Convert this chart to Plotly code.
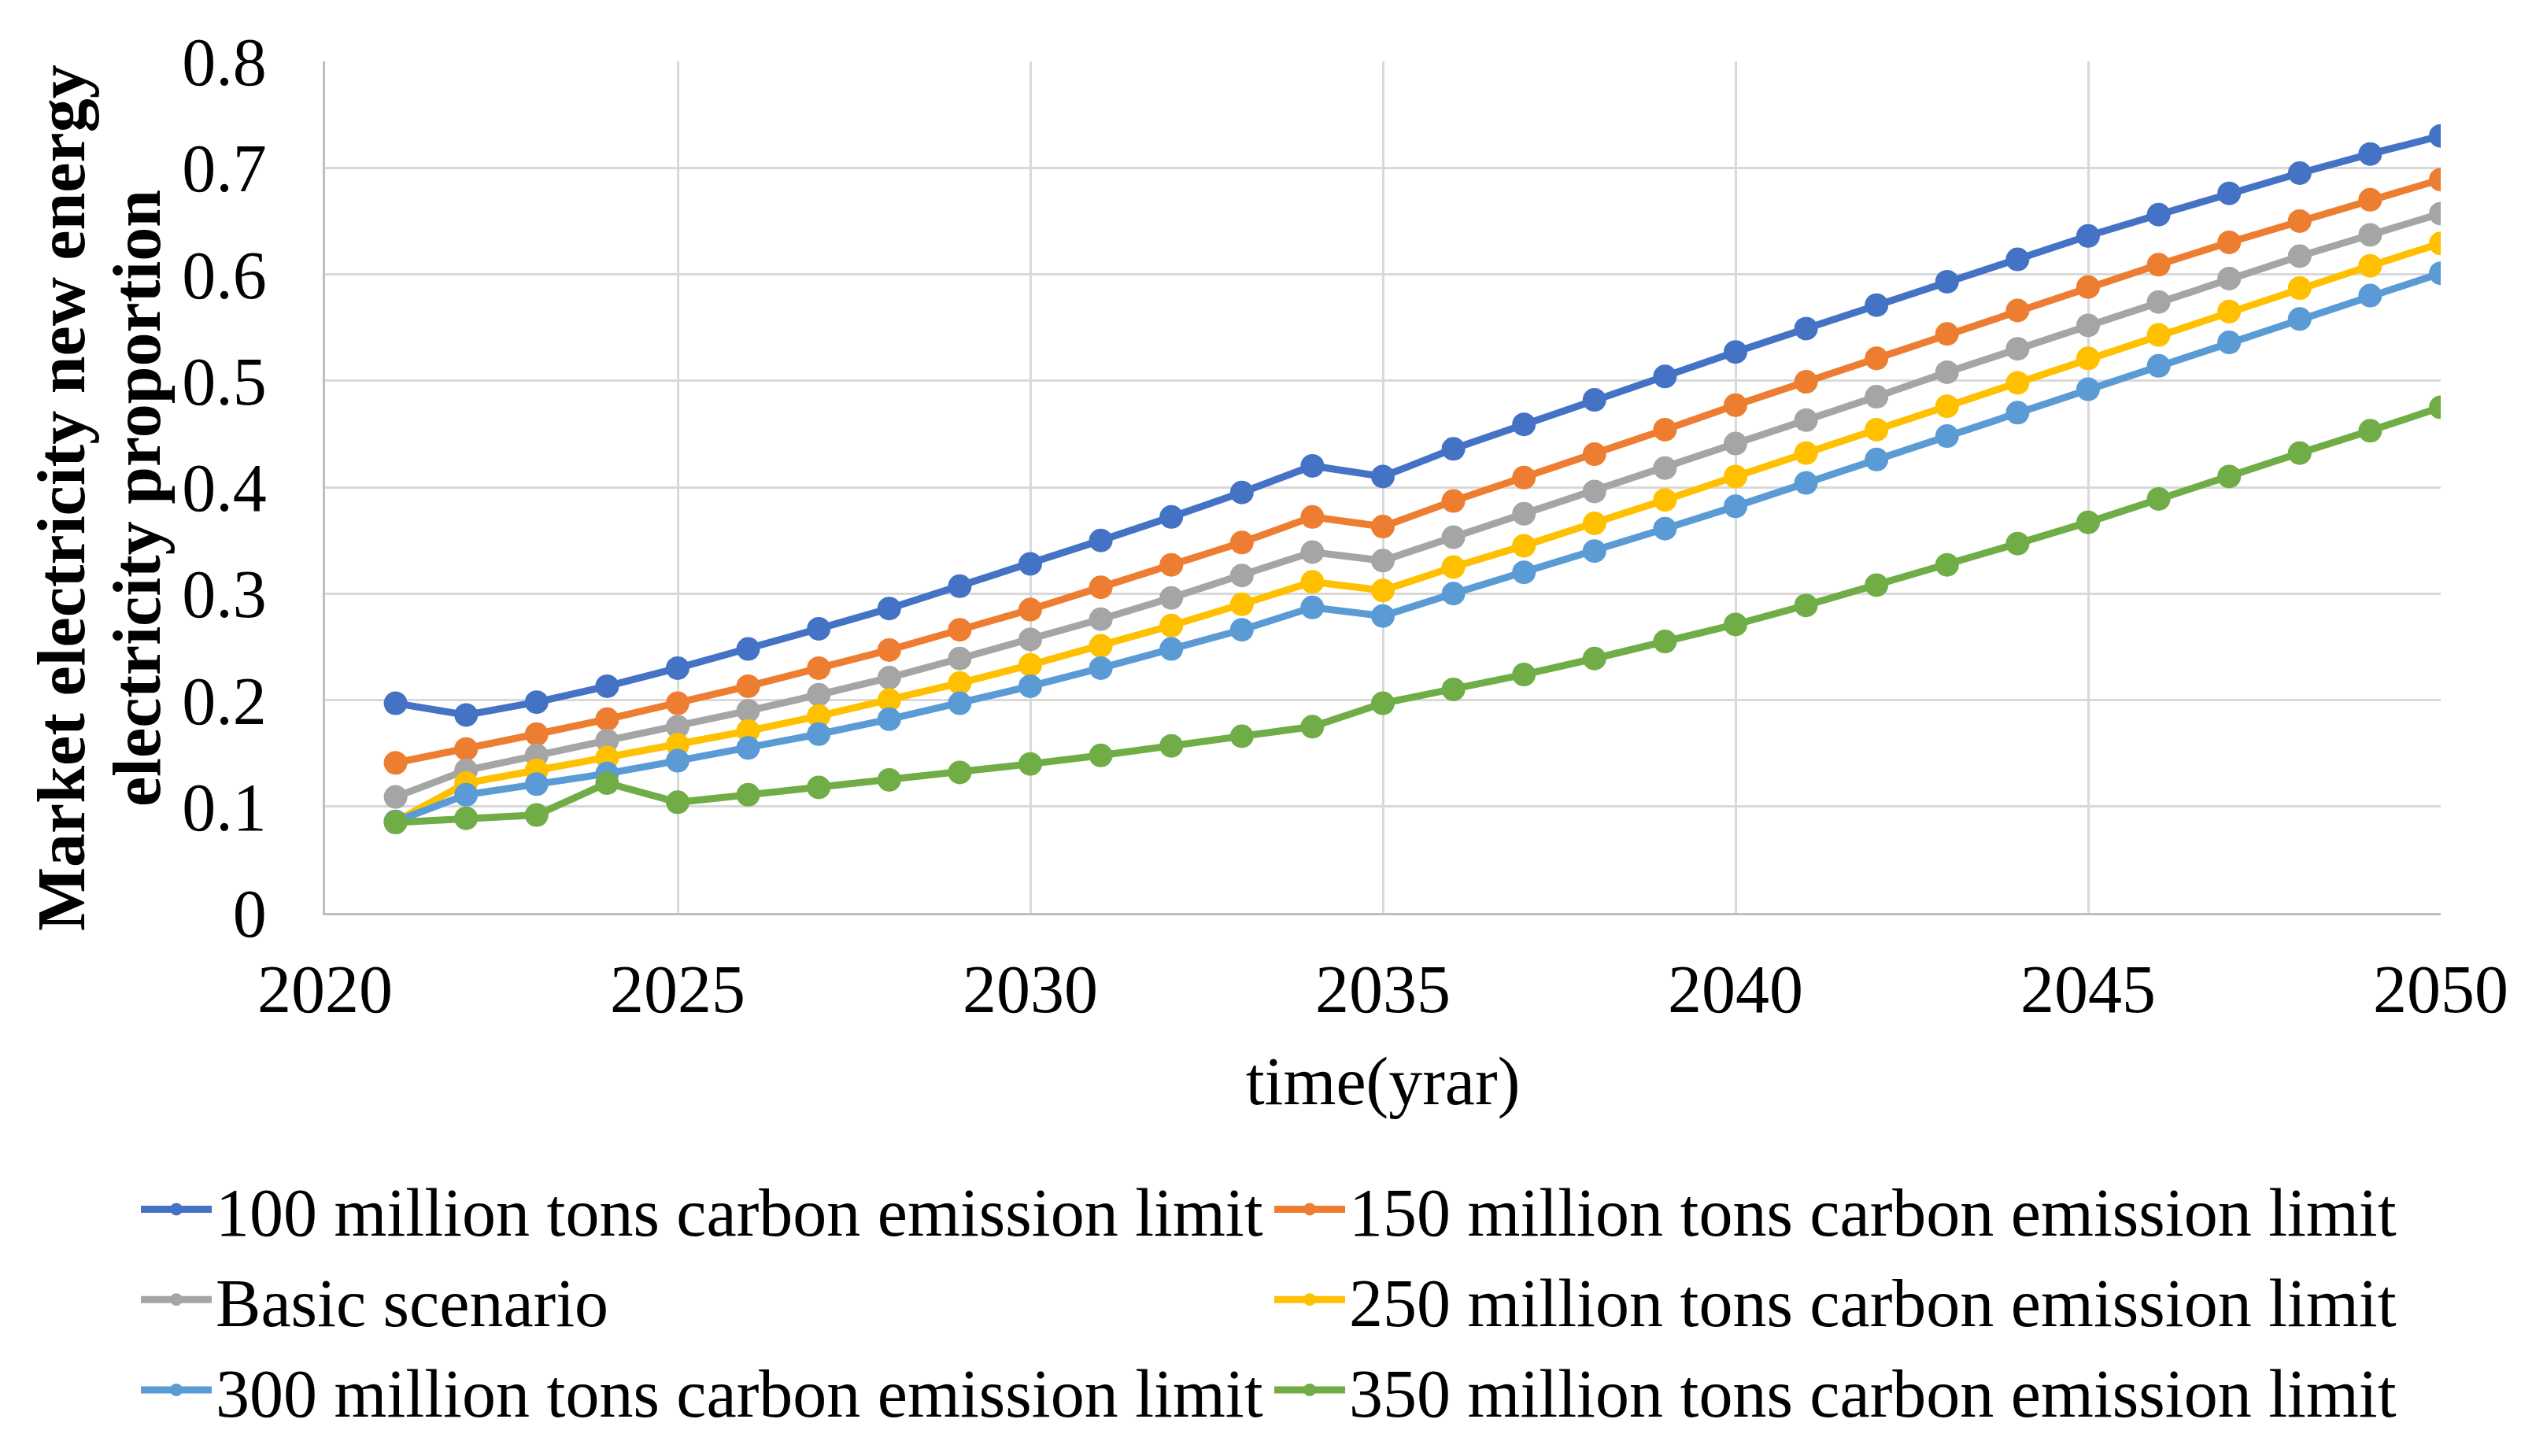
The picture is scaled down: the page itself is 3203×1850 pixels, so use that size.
import plotly.graph_objects as go

years = list(range(2021, 2051))

names = [
    "100 million tons carbon emission limit",
    "150 million tons carbon emission limit",
    "Basic scenario",
    "250 million tons carbon emission limit",
    "300 million tons carbon emission limit",
    "350 million tons carbon emission limit",
]

limit_100 = [0.197, 0.186, 0.198, 0.213, 0.230, 0.248, 0.267, 0.286, 0.307, 0.328,
             0.350, 0.372, 0.395, 0.420, 0.410, 0.436, 0.459, 0.482, 0.504, 0.527,
             0.549, 0.571, 0.593, 0.614, 0.636, 0.656, 0.676, 0.695, 0.713, 0.730]
limit_150 = [0.141, 0.154, 0.168, 0.182, 0.197, 0.213, 0.230, 0.247, 0.266, 0.285,
             0.306, 0.327, 0.348, 0.372, 0.363, 0.387, 0.409, 0.431, 0.454, 0.477,
             0.499, 0.521, 0.544, 0.566, 0.588, 0.609, 0.630, 0.650, 0.670, 0.689]
basic = [0.109, 0.134, 0.148, 0.162, 0.175, 0.190, 0.205, 0.221, 0.239, 0.257,
         0.276, 0.296, 0.317, 0.339, 0.331, 0.353, 0.375, 0.396, 0.418, 0.441,
         0.463, 0.485, 0.508, 0.530, 0.552, 0.574, 0.596, 0.617, 0.637, 0.657]
limit_250 = [0.086, 0.122, 0.134, 0.146, 0.158, 0.171, 0.185, 0.200, 0.216, 0.233,
             0.251, 0.270, 0.290, 0.311, 0.303, 0.325, 0.345, 0.366, 0.388, 0.410,
             0.432, 0.454, 0.476, 0.498, 0.521, 0.543, 0.565, 0.587, 0.608, 0.629]
limit_300 = [0.086, 0.111, 0.121, 0.131, 0.143, 0.155, 0.168, 0.182, 0.197, 0.213,
             0.230, 0.248, 0.266, 0.287, 0.279, 0.300, 0.320, 0.340, 0.361, 0.382,
             0.404, 0.426, 0.448, 0.470, 0.492, 0.514, 0.536, 0.558, 0.580, 0.601]
limit_350 = [0.085, 0.089, 0.092, 0.122, 0.104, 0.111, 0.118, 0.125, 0.132, 0.140,
             0.148, 0.157, 0.166, 0.175, 0.197, 0.210, 0.224, 0.239, 0.255, 0.271,
             0.289, 0.308, 0.327, 0.347, 0.367, 0.389, 0.410, 0.432, 0.453, 0.475]

series = [limit_100, limit_150, basic, limit_250, limit_300, limit_350]
colors = ["#4472C4", "#ED7D31", "#A5A5A5", "#FFC000", "#5B9BD5", "#70AD47"]

y_title_lines = ["Market electricity new energy", "electricity proportion"]
x_title = "time(yrar)"

FONT = "Liberation Serif"

fig = go.Figure()
for i, (name, vals, col) in enumerate(zip(names, series, colors)):
    fig.add_trace(go.Scatter(
        x=years, y=vals, name=name, mode="lines+markers",
        legendgroup="g%d" % i,
        line=dict(color=col, width=9),
        marker=dict(color=col, size=30),
    ))

for text, shift in zip(y_title_lines, [-335, -239]):
    fig.add_annotation(
        text="<b>%s</b>" % text, textangle=-90,
        xref="paper", yref="paper", x=0, y=0.487,
        xanchor="center", yanchor="middle", xshift=shift,
        showarrow=False, font=dict(family=FONT, size=86, color="black"),
    )

fig.update_layout(
    width=3195, height=1842,
    margin=dict(l=405, r=102, t=70, b=690),
    paper_bgcolor="white", plot_bgcolor="white",
    font=dict(family=FONT, size=84, color="black"),
    showlegend=True,
    legend=dict(
        orientation="h",
        xref="paper", yref="paper",
        x=-0.0889, y=-0.2902, xanchor="left", yanchor="top",
        entrywidth=1335, entrywidthmode="pixels",
        itemwidth=90,
        tracegroupgap=16,
        font=dict(family=FONT, size=86, color="black"),
        traceorder="normal",
    ),
    xaxis=dict(
        range=[2020, 2050], dtick=5, tick0=2020,
        showgrid=True, gridcolor="#d9d9d9", gridwidth=3,
        showline=True, linecolor="#bfbfbf", linewidth=3,
        zeroline=False,
        tickfont=dict(family=FONT, size=86),
        ticks="", ticklabelstandoff=20,
        title=dict(text=x_title, font=dict(family=FONT, size=86), standoff=39),
    ),
    yaxis=dict(
        range=[0, 0.8], dtick=0.1, tick0=0,
        showgrid=True, gridcolor="#d9d9d9", gridwidth=3,
        showline=True, linecolor="#bfbfbf", linewidth=3,
        zeroline=False,
        tickfont=dict(family=FONT, size=86),
        ticks="", ticklabelstandoff=54,
    ),
)

fig.write_html("out.html")
